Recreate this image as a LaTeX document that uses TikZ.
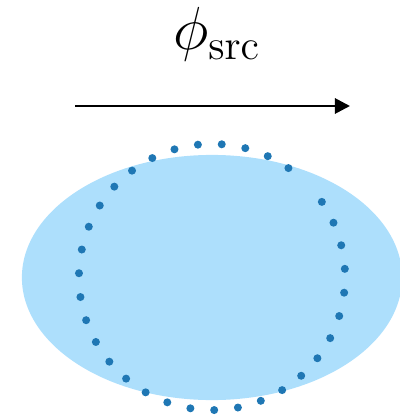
\documentclass[tikz,border=0pt]{standalone}
\usetikzlibrary{arrows.meta, positioning, calc}
\usepackage{xcolor}
\definecolor{blobblue}{HTML}{ADDFFC}
\definecolor{dotblue}{HTML}{1F77B4}

\begin{document}
\begin{tikzpicture}[
    x=0.01cm, y=-0.01cm,
    blob/.style={fill=blobblue, draw=none},
    src/.style={fill=dotblue, draw=none},
    arr/.style={-{Triangle[length=0.15cm, width=0.15cm]}, line width=0.8pt},
    lbl/.style={font=\LARGE, anchor=base},
]
\useasboundingbox (0,0) rectangle (400,415);

% Domain
\fill[blob] (212,277.5) ellipse [x radius=1.9cm, y radius=1.225cm];

% Ring of sources (one missing)
\coordinate (ctr) at (212,277);
\foreach \k in {0,...,34} {
    \ifnum\k=4 \else
        \fill[src] ($(ctr)+({85.8-\k*360/35}:1.33cm)$) circle (0.04cm);
    \fi
}

% Direction of incidence
\coordinate (a0) at (75,106);
\coordinate (a1) at (350,106);
\draw[arr] (a0) -- (a1);
\node[lbl] (phi) at (217,50) {$\phi_{\mathrm{src}}$};

\end{tikzpicture}
\end{document}
